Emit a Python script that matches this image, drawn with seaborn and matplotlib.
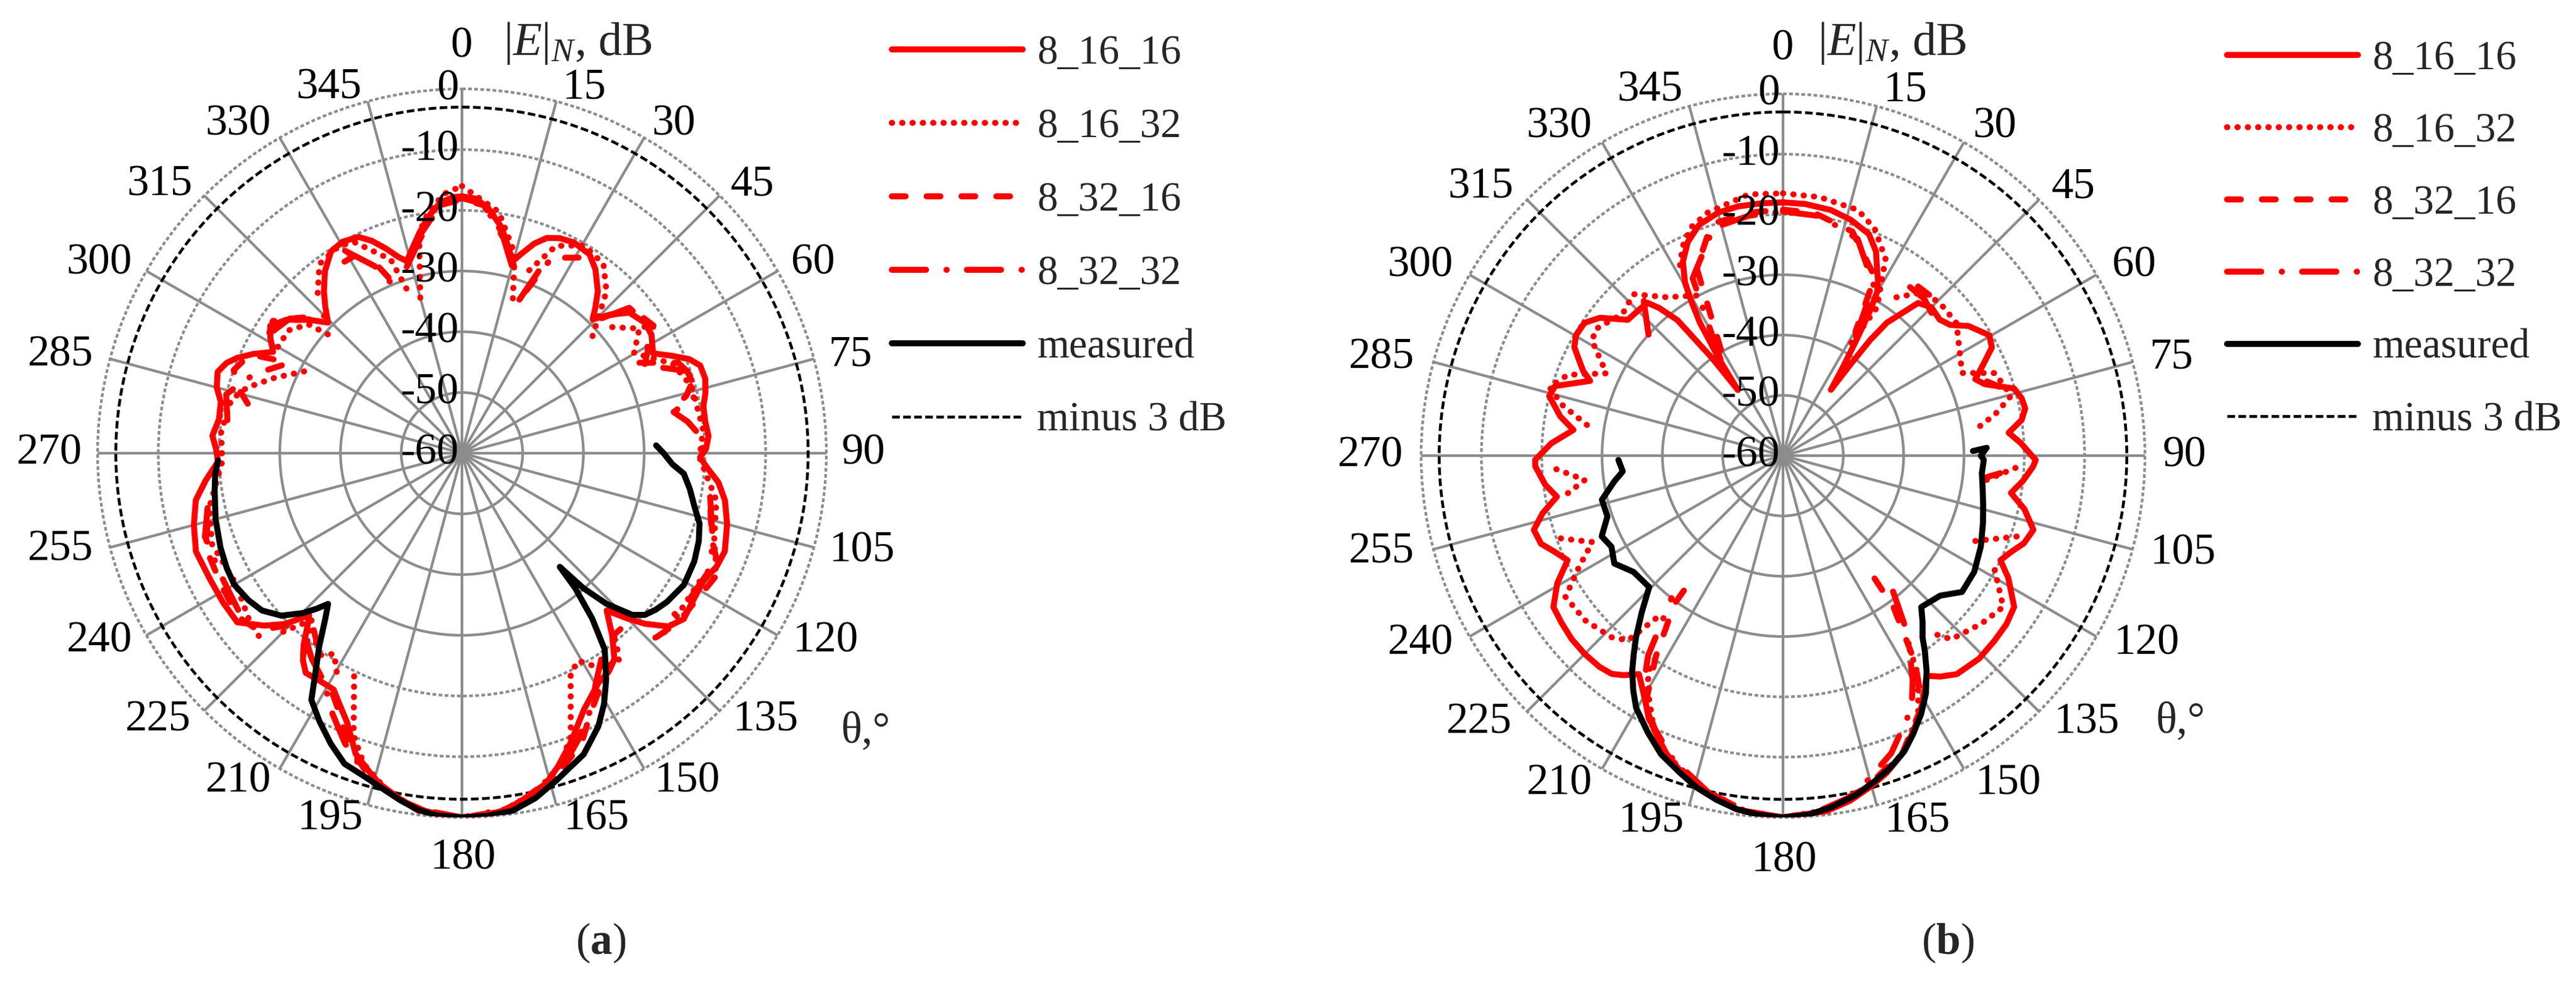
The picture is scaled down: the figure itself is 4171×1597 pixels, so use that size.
import numpy as np
import matplotlib
matplotlib.use("Agg")
import matplotlib.pyplot as plt
import seaborn as sns

nan = float("nan")

# panel a, values (theta in deg, level in dB), nan = gap
a_1616_theta = [0, 3, 6, 9.9, 12.5, 14.8, 16.5, 19, 21.5, 24.4, 28, 32.7, 36, 40, 42.5, 44.3, 47, 50, 54.5, 58, 62.4, 65, 67.5, 69.8, 73, 76.1, 79, 82.5, 86, 89, 91, 93.5, 96.5, 100.2, 105, 110.5, 114, 118, 122, 126.8, 130, 133, 135, 137.4, 139, 140.5, 143.5, 146, 149.3, 154.6, 159.5, 163, 165.8, 170, 173.7, 177, 180,
                183, 186, 189, 192.7, 196, 199.5, 203, 206, 208.5, 212, 215.4, 217.5, 219.5, 221.5, 223.3, 226, 228.9, 233, 238, 243.7, 249.7, 255, 260, 264, 268, 271, 274, 278, 282, 285, 288.4, 291, 293, 295.5, 298.2, 301, 303.6, 307.3, 311, 314.3, 317, 319.5, 323, 327, 330.5, 334.4, 337, 339.7, 342, 344, 346.5, 349, 352, 355, 358, 360]
a_1616_db = [-17.7, -18, -19.3, -22.2, -25, -27.3, -25.8, -23.5, -21.9, -21.1, -20.7, -21.1, -22.6, -25.2, -27.5, -29.2, -26.5, -24, -23, -23.2, -24.5, -22, -19.5, -18.2, -18.1, -18.7, -19.5, -19.6, -19.3, -19.8, -20.8, -19.5, -17.5, -16, -14.8, -13.8, -14.1, -15, -14.9, -14.4, -15.6, -18.8, -21.5, -24.8, -23, -21.1, -17.8, -16.7, -16, -13.2, -9, -6, -3.8, -1.9, -0.7, -0.1, 0,
             -0.2, -0.8, -1.7, -3, -5.2, -7.5, -11.7, -14, -15.7, -15.8, -15.6, -17, -19, -21.5, -23.3, -19.5, -16.8, -13.7, -13.6, -13.6, -13.3, -14.3, -15.5, -17.6, -19.8, -19.5, -18.8, -19.6, -19.4, -18.2, -17.6, -18.5, -19.8, -22, -24.7, -23.2, -22.1, -23.7, -26.5, -29.2, -27, -25, -22.5, -20.4, -20, -20.5, -22, -24.1, -26, -27.1, -25.2, -23.1, -20.6, -18.6, -17.8, -17.7]

a_1632_theta = [0, 8.7, 14.8, 18.6, nan, 20.2, 24.4, 30.5, 36.8, 41.8, 48.2, nan, 50, 54.9, 59.8, 67, 73.9, 84.5, 91, 100.5, 109.3, 114.3, 118, 130.8, 134.2, nan, 141.6, 143, 147.6, 150.7, 153.7, 159, 162.6, 168, 174, 180,
                186, 192, 197.5, 201, 206, 206.5, nan, 209.8, 212.5, 217.5, 219.5, 222, 225.5, nan, 228, 232, 240, 250, 258, 268, 275, 283, 287, 292, 297.5, nan, 300, 305.3, 310, 311.8, nan, 318, 323, 329.5, 333, 339.8, 341.4, nan, 345, 349, 352, 356, 360]
a_1632_db = [-16, -19.8, -26, -33.8, nan, -27.9, -22.5, -20.3, -21.1, -24.3, -31.2, nan, -27.7, -24.3, -27.2, -22.3, -20.6, -20.1, -20.9, -17.4, -16, -14, -15.5, -15.3, -16.1, nan, -18.8, -17, -18.2, -20.8, -19.6, -10, -6.1, -2.6, -0.6, 0,
             -0.6, -2.7, -6.3, -10.2, -19.5, -20.5, nan, -18.5, -20.8, -17.8, -20, -23, -17.5, nan, -15, -15.5, -17, -16.2, -17.5, -20.5, -20.2, -21, -23, -26.8, -30.8, nan, -25, -25, -27, -31, nan, -24.5, -21, -20.3, -21, -26, -31.5, nan, -33.5, -23, -20, -17.2, -16]

a_3216_theta = [344, 349, 355, 0, 5, 11, 15.5, nan, 21.6, 24.3, nan, 27.8, 30.8, nan, 47.3, 50.3, 56.3, 59.9, nan, 63, 67.3, 72, 75.7, 77.5, nan, 103, 109, 114.7, 128, 134, nan, 138, 140, 143, 150.4, 154.2, 157.6, 164, 173, 180,
                187, 195, 201.5, 205, 209, 214, 218, 221, nan, 225.5, 229, 234, 241, 250, 258, nan, 283, 286, 290, 295, 297, nan, 302, 305, 312, nan, 328.5, 331, nan, 336, 339]
a_3216_db = [-27.5, -23.5, -19, -18.2, -19, -23.5, -28, nan, -31.2, -25.5, nan, -23.6, -22.5, nan, -26.4, -23.2, -22.1, -24.2, nan, -27.2, -21.4, -19.8, -21.9, -24, nan, -18, -16.5, -13.3, -14.8, -16, nan, -21, -21, -18, -14.6, -11.8, -8.3, -4.4, -0.7, 0,
             -0.7, -3.8, -8.5, -12.5, -15.5, -17, -21, -22.5, nan, -19.5, -15.5, -14.3, -14.8, -15, -17.5, nan, -23.8, -21.8, -20, -21.5, -26.5, nan, -22.6, -22, -27, nan, -23, -23, nan, -26.5, -31]

a_3232_theta = [343.5, 349, 355, 0, 5, 11, 16, nan, 20.5, 23, nan, 46, 49, 54, 61, 64, nan, 67, 70, 76, 79, 82, 87, 92, nan, 100, 110, 116, 125, 131, nan, 146, 150, 153, 158, 163, 172, 180,
                188, 197, 202, 207, 211, 216, 220, 224, nan, 235, 243, 252, 262, nan, 278, 284, 287, 291, 296, nan, 303, 308, 315, nan, 330, 335, 338.5]
a_3232_db = [-28, -24, -18.8, -18, -18.8, -24, -29, nan, -33, -27, nan, -28, -23.5, -23, -25, -26.5, nan, -24, -20.5, -20, -24.5, -22.5, -20, -21, nan, -18.5, -16, -15, -15.5, -17, nan, -19, -16, -13, -9, -5, -1, 0,
             -1, -5, -8.5, -12.5, -16, -18, -20, -24, nan, -15, -15.5, -15.5, -18, nan, -21, -20, -21.5, -23.5, -27, nan, -23, -24, -28, nan, -21.5, -26, -31]

a_meas_theta = [87.7, 90, 93, 95.3, 99, 103, 106.5, 110.4, 115, 120.7, 126, 129, 131.5, 133.5, 136.2, 138, 139.3, 140, 141.8, 144, 147.5, 150.5, 153.5, 158, 163.9, 168, 172, 176, 180,
                184, 187, 190, 192.7, 196.5, 200.7, 204.3, 208, 211.4, 213.7, 216.5, 219.5, 221.6, 223, 224.8, 228, 231.8, 235.5, 240, 244, 248.6, 255, 261.3, 265, 268.3]
a_meas_db = [-28, -26.8, -25.3, -23.3, -22, -20.7, -19.2, -18.4, -17.8, -17.5, -18.3, -19, -19.8, -21.3, -25.6, -30, -35.3, -31, -25.3, -20, -15.8, -12.5, -9.7, -6.5, -3.9, -1.9, -0.5, -0.1, 0,
             -0.2, -0.8, -1.9, -3, -4.3, -5.3, -7.5, -10, -12.4, -16.5, -20.5, -24.6, -26.8, -25, -22.9, -20, -18.1, -17.3, -16.7, -16.9, -17.3, -18, -18.8, -19.2, -19.8]

# panel b
b_1616_theta = [0, 5, 11, 16, 21.2, 24.5, 26.6, 28.5, 29.9, 31, 32.3, 34, 36, 36.5, 37, 38, 41.5, 45, 49, 52, 55, 59.7, 62.6, 65.5, 68.3, 70.5, 73.8, 76.5, 79, 81.5, 84.2, 87, 91, 92.5, 96, 99.3, 102.5, 106.5, 110, 113, 115.7, 118.5, 123.2, 127, 131.2, 136, 141.5, 144.5, 146.9, 149, 151.6, 155, 158.3, 162, 165.5, 169, 173, 180,
                187.3, 191, 194.6, 198, 201.3, 205, 208, 211, 213.4, 216, 218.1, 221, 225, 229, 233, 236.6, 240.5, 244.1, 247, 250, 253.4, 256.5, 259.7, 263, 267.5, 269, 273, 277, 280, 284.3, 287, 291.2, 293, 295.2, 297.5, 300.2, 303.8, 307, 311.2, 315, 318.4, 320, 322.1, 324, 325.5, 326.5, 328, 329.3, 330.5, 332.7, 336, 340, 345, 349.7, 355, 360]
b_1616_db = [-18, -18.1, -18.5, -19.3, -20.6, -22.8, -25.2, -27, -28.7, -32, -37, -42, -46.5, -41, -36, -32, -26.2, -25.2, -25.6, -24.8, -22.5, -20.4, -21, -23.5, -25.7, -24.5, -20.1, -19.3, -19.1, -20, -22.4, -20.5, -18.1, -18.5, -20, -21.7, -19, -16.7, -17.5, -19, -20, -17.5, -14.2, -13.6, -13.4, -13.2, -13.7, -15, -16.4, -14.5, -11.9, -9.2, -6.7, -4.6, -3.1, -1.7, -0.6, 0,
             -0.8, -1.9, -3.4, -5, -6.9, -9.6, -12.1, -14.8, -16.6, -15, -14, -13.6, -13.5, -13.6, -14, -14.4, -17, -20.3, -19, -17.3, -16.9, -19, -21.9, -20.3, -18.9, -18.9, -21.5, -25, -22.5, -20, -20.5, -25.7, -24, -22.6, -21, -20.3, -20.4, -22, -25.8, -26, -26.1, -28, -31.5, -40, -46.8, -41, -34, -30.2, -27, -23.8, -21.2, -19.3, -18.3, -18, -18, -18]

b_1632_theta = [0, 8, 16.9, 22, 27.5, 32.4, 30.9, nan, 35.6, 40.7, 45.8, 52.6, 65.2, 68.7, 75.3, 79, 82.3, nan, 96.8, 92.6, nan, 109.1, 115, nan, 118.4, 124.5, 130.3, 137.5, 140.4, nan, 146.9, 148.3, 152.4, 158, 165.6, 173, 180,
                186, 194, 203.6, 210.5, 212.5, nan, 218, 220, 223.3, 230.3, 237, 241.4, 245.6, 250, nan, 260.1, 263, 267.4, nan, 278.9, 282.9, 286.4, 290.6, 295, 301, 304, 311.5, 317.2, 323.7, 332.4, nan, 331.6, 334.4, 338, 342.8, 352.5, 360]
b_1632_db = [-16.5, -16.7, -17.4, -19.4, -23.2, -30.9, -39.4, nan, -27.7, -24.3, -23.7, -23.8, -27.3, -22.3, -20.9, -24.2, -27.8, nan, -26, -20.8, nan, -19, -26.2, nan, -20.1, -15.7, -16.9, -18.7, -22, nan, -21.5, -17.4, -11.6, -6.8, -3.1, -0.8, 0,
             -0.7, -3.3, -7.6, -15.6, -19.1, nan, -25.7, -20, -18.6, -17.3, -17, -21.5, -25.3, -20.1, nan, -23.8, -26.9, -21.1, nan, -27.1, -22.5, -19.6, -21.9, -27.7, -23.1, -22.5, -24.5, -23.5, -27.4, -30, nan, -24.1, -21.5, -19.2, -17.8, -16.3, -16.5]

b_3216_theta = [0, 7.3, 17.2, 27.2, 30.3, nan, 38.6, 45.8, nan, 70, 74, nan, 96, 93, nan, 143.3, 143.9, 147.5, 151, 158, 166, 174, 180,
                186, 194, 202, 209, 212.3, 216.2, 216.4, nan, 329.6, 335.3, 342.8, 352, 360]
b_3216_db = [-19.2, -19.4, -21.1, -26.7, -36.2, nan, -24.1, -23.7, nan, -24, -21, nan, -26, -21, nan, -34.6, -28.9, -19.1, -12.5, -7, -3.2, -0.7, 0,
             -0.7, -3.2, -7, -13, -20.5, -29.5, -35, nan, -39.7, -25.8, -19.8, -19.3, -19.2]

b_3232_theta = [0, 9, 19, 28, 32, nan, 37, 42, 47, nan, 141, 145, 150, 153, 160, 168, 175, 180,
                185, 192, 200, 207, 211, 214, 218, nan, 312, 318, 323, nan, 327, 333, 343, 352, 360]
b_3232_db = [-19.5, -19.8, -22, -28, -38, nan, -25, -25, -26, nan, -31, -24, -17, -13, -7.5, -2.5, -0.5, 0,
             -0.5, -2.5, -6.5, -11, -15, -20, -30, nan, -30, -25.5, -25, nan, -41, -27, -20.5, -19.8, -19.5]

b_meas_theta = [88.6, 87.8, 90, 91.2, 95, 99.8, 104, 108.7, 114.7, 121.3, 127.3, 131.7, 137.6, 140, 142.5, 144, 146.3, 149, 151.9, 155, 157.7, 161, 164.3, 168, 172.3, 176, 180,
                184, 187.6, 191, 194.5, 198, 202.2, 206, 210.2, 212.5, 215, 217, 219, 222, 225.5, 232.1, 237.4, 242, 246, 250.9, 256.3, 261.3, 264.4, 268.5]
b_meas_db = [-28.5, -26.2, -27.2, -26.7, -26.9, -26.4, -25.8, -25, -23.9, -22.9, -22.7, -25.1, -26, -24, -22, -20, -17.1, -14, -11.4, -9, -7, -5.3, -3.9, -2.4, -1.1, -0.3, 0,
             -0.3, -0.9, -1.9, -3.1, -4.7, -6.5, -8.9, -11.6, -13.8, -16.4, -18.9, -21.3, -25, -28.9, -28.6, -26.8, -27.8, -27.1, -29.2, -29.1, -31.7, -33.3, -32.7]

minus3_level = -3
series_labels = ["8_16_16", "8_16_32", "8_32_16", "8_32_32", "measured", "minus 3 dB"]
rings_db = [0, -10, -20, -30, -40, -50, -60]
angles = list(range(0, 360, 15))

# pixel layout
FIG_W, FIG_H = 4171, 1597
LINE_W = 7.0
GRID = "#8c8c8c"
FS = 51
FS_LEG = 48

# label offsets from the centre, px (x right, y down)
angle_off = {0: (-1, -659), 15: (198, -592), 30: (343, -533), 45: (470, -435), 60: (568, -308),
             75: (629, -159), 90: (650, 0), 105: (648, 158), 120: (589, 304), 135: (492, 432),
             150: (365, 531), 165: (218, 592), 180: (2, 656), 195: (-213, 592), 210: (-362, 531),
             225: (-492, 432), 240: (-587, 304), 255: (-650, 156), 270: (-668, 0), 285: (-650, -159),
             300: (-587, -308), 315: (-489, -435), 330: (-362, -533), 345: (-215, -592)}

styles = [dict(color="red", linestyle="-", zorder=3),
          dict(color="red", linestyle=(0, (0.05, 1.67)), zorder=3.1),
          dict(color="red", linestyle=(0, (2.3, 3.5)), zorder=3.2),
          dict(color="red", linestyle=(0, (5.7, 3.4, 0.05, 3.35)), zorder=3.3),
          dict(color="black", linestyle="-", zorder=4)]

sns.set_theme(style="white")
plt.rcParams["font.family"] = ["Liberation Serif", "DejaVu Sans"]
plt.rcParams["mathtext.fontset"] = "custom"
plt.rcParams["mathtext.rm"] = "Liberation Serif"
plt.rcParams["mathtext.it"] = "Liberation Serif:italic"
plt.rcParams["mathtext.bf"] = "Liberation Serif:bold"


def draw_series(ax, theta, db, label, style):
    # one lineplot per unbroken stretch
    theta = np.array(theta, dtype=float)
    db = np.array(db, dtype=float)
    breaks = np.where(np.isnan(theta))[0]
    first = True
    for chunk in np.split(np.arange(len(theta)), breaks):
        chunk = chunk[~np.isnan(theta[chunk])]
        if len(chunk) < 2:
            continue
        sns.lineplot(x=np.deg2rad(theta[chunk]), y=db[chunk], ax=ax, sort=False, estimator=None,
                     linewidth=LINE_W, label=label if first else None, **style)
        line = ax.lines[-1]
        line.set_dash_capstyle("round")
        line.set_solid_capstyle("round")
        line.set_solid_joinstyle("round")
        first = False


def make_panel(cx, cy, radius, all_series, legend_xy, spacing, head_xy, theta_xy, tag, tag_xy):
    ax = fig.add_axes([(cx - radius) / FIG_W, (FIG_H - cy - radius) / FIG_H,
                       2 * radius / FIG_W, 2 * radius / FIG_H], projection="polar")
    ax.set_theta_zero_location("N")
    ax.set_theta_direction(-1)

    for (theta, db), label, style in zip(all_series, series_labels, styles):
        draw_series(ax, theta, db, label, style)

    circle = np.linspace(0, 2 * np.pi, 361)
    sns.lineplot(x=circle, y=[minus3_level] * len(circle), ax=ax, sort=False, estimator=None,
                 color="black", linewidth=3.3, linestyle=(0, (2.7, 1.2)), label=series_labels[5], zorder=2.5)

    ax.set_xlim(0, 2 * np.pi)
    ax.set_ylim(-60, 0)
    ax.set_xlabel("")
    ax.set_ylabel("")
    ax.set_xticks(np.deg2rad(angles))
    ax.set_xticklabels([])
    ax.set_yticks(rings_db)
    ax.set_yticklabels([])
    ax.grid(True)
    ax.xaxis.grid(True, color=GRID, linewidth=3.1, linestyle="-")
    for ring, line in zip(rings_db, ax.yaxis.get_gridlines()):
        line.set_color(GRID)
        if ring >= -20:
            line.set_linestyle((0, (1.4, 0.9)))
        else:
            line.set_linestyle("-")
        line.set_linewidth(3.1)
        line.set_clip_on(False)
    ax.spines["polar"].set_visible(False)
    ax.set_facecolor("none")

    for angle in angles:
        dx, dy = angle_off[angle]
        ax.annotate(str(angle), xy=(0, -60), xytext=(dx, -dy), xycoords="data", textcoords="offset pixels",
                    ha="center", va="center", fontsize=FS, color="black", annotation_clip=False, zorder=6)
    for ring in rings_db:
        ax.annotate(str(ring), xy=(0, ring), xytext=(-5, 0), xycoords="data", textcoords="offset pixels",
                    ha="right", va="center", fontsize=FS, color="black", annotation_clip=False, zorder=6)

    fig.text(head_xy[0] / FIG_W, 1 - head_xy[1] / FIG_H, r"$|E|_{N}$, dB", fontsize=FS + 4, ha="center", va="center")
    fig.text(theta_xy[0] / FIG_W, 1 - theta_xy[1] / FIG_H, "θ,°", fontsize=FS, ha="center", va="center")
    fig.text(tag_xy[0] / FIG_W, 1 - tag_xy[1] / FIG_H, tag, fontsize=FS, ha="center", va="center")

    handles, labels = ax.get_legend_handles_labels()
    ax.legend(handles, labels, loc="upper left", frameon=False, fontsize=FS_LEG,
              bbox_to_anchor=(legend_xy[0] / FIG_W, 1 - legend_xy[1] / FIG_H), bbox_transform=fig.transFigure,
              handlelength=212 / FS_LEG * 0.72, handletextpad=0.35, labelspacing=spacing, borderpad=0, borderaxespad=0)


fig = plt.figure(figsize=(FIG_W / 100, FIG_H / 100), dpi=100, facecolor="white")

series_a = [(a_1616_theta, a_1616_db), (a_1632_theta, a_1632_db), (a_3216_theta, a_3216_db),
            (a_3232_theta, a_3232_db), (a_meas_theta, a_meas_db)]
series_b = [(b_1616_theta, b_1616_db), (b_1632_theta, b_1632_db), (b_3216_theta, b_3216_db),
            (b_3232_theta, b_3232_db), (b_meas_theta, b_meas_db)]

make_panel(748, 734, 590, series_a, (1444, 56), 0.87, (935, 70), (1402, 1185), r"($\mathbf{a}$)", (973, 1527))
make_panel(2887, 738, 586, series_b, (3606, 65), 0.84, (3063, 70), (3531, 1169), r"($\mathbf{b}$)", (3154, 1527))

fig.savefig("out.png", dpi=100, facecolor="white")
